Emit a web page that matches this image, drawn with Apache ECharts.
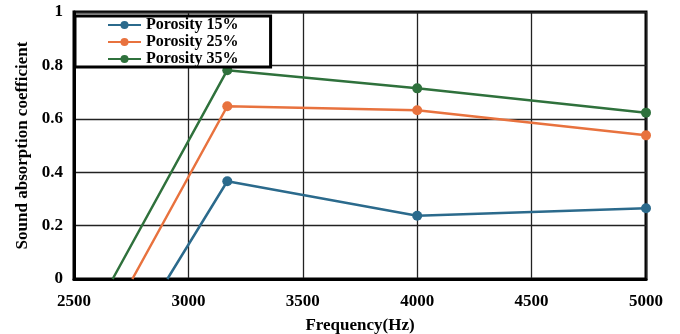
<!DOCTYPE html>
<html>
<head>
<meta charset="utf-8">
<style>
  * { margin: 0; padding: 0; }
  #chart-container { width: 680px; height: 334px; background: #fff; }
</style>
</head>
<body>
<div id="chart-container"></div>
<script src="https://cdn.jsdelivr.net/npm/echarts@6/dist/echarts.min.js"></script>
<script>
var seriesNames = ['Porosity 15%', 'Porosity 25%', 'Porosity 35%'];
var colors = ['#2b6a8c', '#e8723e', '#2f713c'];
// where each curve leaves the zero line (no marker there)
var startFreq = [2908, 2755, 2669];
var freqs = [3170, 4000, 5000];
var p15 = [0.366, 0.237, 0.265];
var p25 = [0.647, 0.632, 0.538];
var p35 = [0.782, 0.714, 0.623];
var values = [p15, p25, p35];

var font = 'Liberation Serif';
var myChart = echarts.init(document.getElementById('chart-container'), null, { renderer: 'canvas' });

var series = seriesNames.map(function (name, i) {
  var data = [{ value: [startFreq[i], 0], symbol: 'none' }];
  freqs.forEach(function (f, j) { data.push([f, values[i][j]]); });
  return {
    name: name,
    type: 'line',
    data: data,
    symbol: 'circle',
    symbolSize: 10,
    color: colors[i],
    lineStyle: { width: 2.5, color: colors[i] },
    itemStyle: { color: colors[i] },
    z: 3
  };
});

var option = {
  animation: false,
  grid: {
    left: 74, right: 34, top: 12, bottom: 55,
    containLabel: false,
    outerBoundsMode: 'none',
    show: true, borderColor: '#000', borderWidth: 3
  },
  legend: {
    orient: 'vertical',
    left: 75, top: 16,
    itemWidth: 33, itemHeight: 10,
    itemGap: 1,
    padding: [1, 32, 0, 32],
    backgroundColor: '#fff',
    borderColor: '#000',
    borderWidth: 3,
    borderRadius: 0,
    textStyle: { fontFamily: font, fontWeight: 'bold', fontSize: 16, color: '#000' },
    data: seriesNames
  },
  xAxis: {
    type: 'value',
    min: 2500, max: 5000, interval: 500,
    name: 'Frequency(Hz)',
    nameLocation: 'middle',
    nameGap: 38,
    nameTextStyle: { fontFamily: font, fontWeight: 'bold', fontSize: 17, color: '#000' },
    axisLine: { lineStyle: { color: '#000', width: 3 } },
    axisTick: { show: false },
    axisLabel: {
      fontFamily: font, fontWeight: 'bold', fontSize: 17, color: '#000', margin: 14,
      formatter: function (v) { return String(v); }
    },
    splitLine: { lineStyle: { color: '#222', width: 1.3 } }
  },
  yAxis: {
    type: 'value',
    min: 0, max: 1, interval: 0.2,
    name: 'Sound absorption coefficient',
    nameLocation: 'middle',
    nameGap: 43,
    nameTextStyle: { fontFamily: font, fontWeight: 'bold', fontSize: 17, color: '#000' },
    axisLine: { show: true, lineStyle: { color: '#000', width: 3 } },
    axisTick: { show: false },
    axisLabel: { fontFamily: font, fontWeight: 'bold', fontSize: 17, color: '#000', margin: 11 },
    splitLine: { lineStyle: { color: '#222', width: 1.3 } }
  },
  series: series
};

myChart.setOption(option);
window.addEventListener('resize', myChart.resize);
</script>
</body>
</html>
